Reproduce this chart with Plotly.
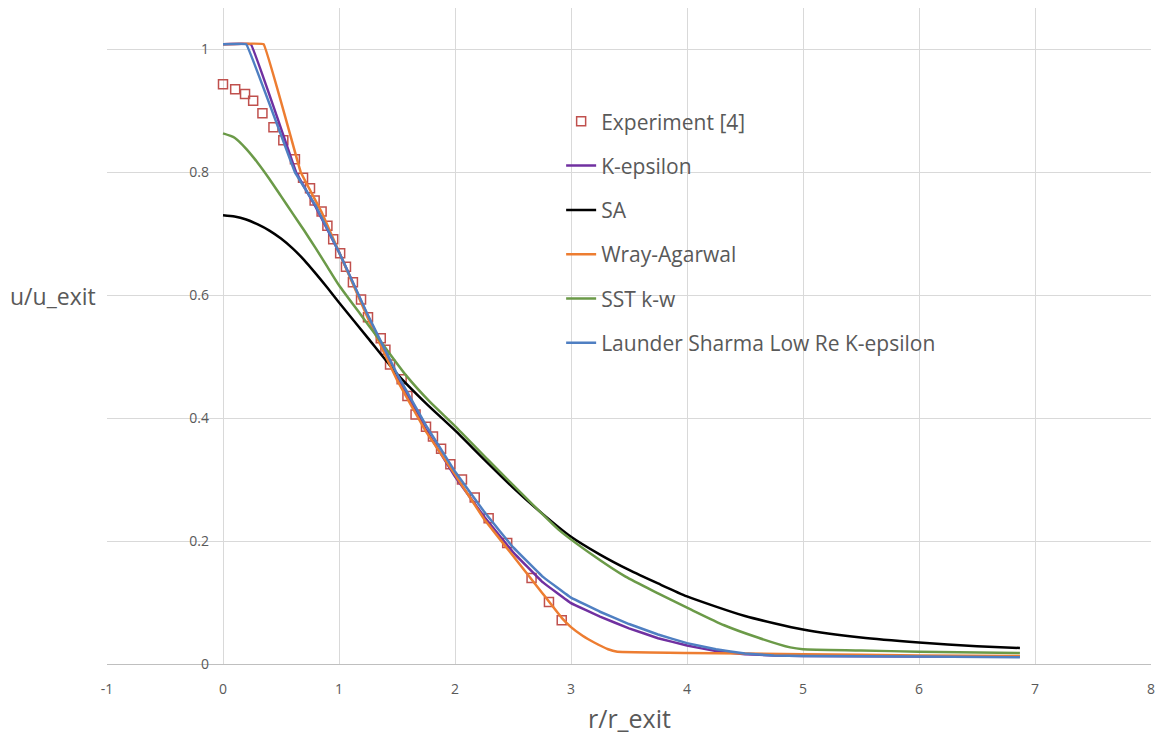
import plotly.graph_objects as go

# Experiment [4]
exp_x = [0, 0.105, 0.19, 0.26, 0.34, 0.435, 0.52, 0.62, 0.69, 0.75, 0.79, 0.85, 0.90, 0.95, 1.01,
         1.06, 1.12, 1.19, 1.25, 1.36, 1.40, 1.44, 1.54, 1.59, 1.66, 1.75, 1.81, 1.88, 1.96, 2.06,
         2.17, 2.29, 2.45, 2.66, 2.81, 2.92]
exp_y = [0.943, 0.935, 0.927, 0.916, 0.896, 0.873, 0.852, 0.821, 0.791, 0.774, 0.754, 0.736, 0.713,
         0.691, 0.668, 0.646, 0.621, 0.593, 0.564, 0.530, 0.511, 0.487, 0.463, 0.436, 0.406, 0.386,
         0.370, 0.350, 0.325, 0.300, 0.271, 0.237, 0.197, 0.140, 0.101, 0.071]

# K-epsilon
ke_x = [0, 0.24, 0.63, 0.8, 1.0, 1.25, 1.5, 1.75, 2.0, 2.25, 2.5, 2.75, 3.0, 3.25, 3.5,
        3.75, 4.0, 4.25, 4.5, 4.75, 5.0, 6.0, 6.87]
ke_y = [1.008, 1.008, 0.800, 0.743, 0.670, 0.565, 0.468, 0.381, 0.305, 0.240, 0.182, 0.134,
        0.099, 0.077, 0.058, 0.042, 0.030, 0.021, 0.016, 0.014, 0.013, 0.012, 0.012]

# SA
sa_x = [0, 0.1, 0.2, 0.3, 0.4, 0.5, 0.6, 0.7, 0.8, 0.9, 1.0, 1.25, 1.5, 1.75, 2.0, 2.25, 2.5,
        2.75, 3.0, 3.25, 3.5, 3.75, 4.0, 4.5, 5.0, 5.5, 6.0, 6.5, 6.87]
sa_y = [0.730, 0.728, 0.723, 0.715, 0.705, 0.692, 0.676, 0.657, 0.635, 0.612, 0.588, 0.530, 0.472,
        0.424, 0.380, 0.333, 0.287, 0.245, 0.207, 0.178, 0.153, 0.131, 0.110, 0.078, 0.056, 0.043,
        0.035, 0.029, 0.026]

# Wray-Agarwal
wa_x = [0, 0.35, 0.67, 0.85, 1.0, 1.25, 1.5, 1.75, 2.0, 2.25, 2.5, 2.75, 2.92, 3.0, 3.1, 3.2,
        3.32, 3.4, 4.0, 5.0, 6.0, 6.87]
wa_y = [1.008, 1.008, 0.800, 0.735, 0.670, 0.562, 0.462, 0.378, 0.308, 0.236, 0.176, 0.116,
        0.075, 0.060, 0.046, 0.035, 0.024, 0.020, 0.018, 0.016, 0.014, 0.013]

# SST k-w
sst_x = [0, 0.1, 0.2, 0.3, 0.4, 0.5, 0.6, 0.7, 0.8, 0.9, 1.0, 1.18, 1.35, 1.58, 1.78, 2.0, 2.29,
         2.72, 2.89, 3.18, 3.47, 3.75, 4.04, 4.32, 4.61, 4.89, 5.0, 5.5, 6.0, 6.87]
sst_y = [0.863, 0.856, 0.838, 0.815, 0.789, 0.761, 0.733, 0.705, 0.676, 0.646, 0.616, 0.570, 0.527,
         0.469, 0.427, 0.387, 0.331, 0.250, 0.219, 0.178, 0.142, 0.115, 0.088, 0.063, 0.043, 0.027,
         0.024, 0.022, 0.020, 0.018]

# Launder Sharma Low Re K-epsilon
ls_x = [0, 0.20, 0.62, 0.8, 1.0, 1.25, 1.5, 1.75, 2.0, 2.25, 2.5, 2.75, 3.0, 3.25, 3.5,
        3.75, 4.0, 4.25, 4.5, 4.75, 5.0, 6.0, 6.87]
ls_y = [1.008, 1.008, 0.800, 0.745, 0.670, 0.567, 0.472, 0.388, 0.313, 0.248, 0.190, 0.143,
        0.108, 0.085, 0.065, 0.048, 0.034, 0.024, 0.017, 0.014, 0.013, 0.012, 0.011]

x_ticks = [-1, 0, 1, 2, 3, 4, 5, 6, 7, 8]
x_tick_labels = ["-1", "0", "1", "2", "3", "4", "5", "6", "7", "8"]
y_ticks = [0, 0.2, 0.4, 0.6, 0.8, 1.0]
y_tick_labels = ["0", "0.2", "0.4", "0.6", "0.8", "1"]

FONT = "Open Sans"

fig = go.Figure()

fig.add_trace(go.Scatter(
    x=exp_x, y=exp_y, mode="markers", name="Experiment [4]", legendgroup="a",
    marker=dict(symbol="square-open", size=9, color="#C0504D", line=dict(width=1.5, color="#C0504D")),
))

series = [
    ("K-epsilon", ke_x, ke_y, "#7030A0", "b", 0.15),
    ("SA", sa_x, sa_y, "#000000", "c", 0.6),
    ("Wray-Agarwal", wa_x, wa_y, "#ED7D31", "d", 0.15),
    ("SST k-w", sst_x, sst_y, "#6B9A48", "e", 0.6),
    ("Launder Sharma Low Re K-epsilon", ls_x, ls_y, "#4F7FC2", "f", 0.15),
]
for name, xs, ys, col, grp, sm in series:
    fig.add_trace(go.Scatter(
        x=xs, y=ys, mode="lines", name=name, legendgroup=grp,
        line=dict(color=col, width=2.5, shape="spline", smoothing=sm),
    ))

fig.update_layout(
    width=1163, height=736,
    margin=dict(l=107, r=9, t=8, b=72),
    paper_bgcolor="white", plot_bgcolor="white",
    font=dict(family=FONT, color="#595959"),
    legend=dict(
        x=0.435, y=0.858, xanchor="left", yanchor="top",
        font=dict(size=21, color="#595959", family=FONT),
        bgcolor="rgba(0,0,0,0)", tracegroupgap=14,
        itemwidth=30,
    ),
    xaxis=dict(
        range=[-1, 8], tickvals=x_ticks, ticktext=x_tick_labels,
        showgrid=True, gridcolor="#D9D9D9", gridwidth=1,
        zeroline=False, showline=True, linecolor="#BFBFBF", linewidth=1,
        tickfont=dict(size=14, color="#595959"), ticks="", ticklabelstandoff=12,
    ),
    yaxis=dict(
        range=[0, 1.067], tickvals=y_ticks, ticktext=y_tick_labels,
        showgrid=True, gridcolor="#D9D9D9", gridwidth=1, zeroline=False, showline=False,
        anchor="free", position=1 / 9, tickfont=dict(size=14, color="#595959"), ticks="",
        ticklabelstandoff=14,
    ),
    annotations=[
        dict(text="u/u_exit", xref="paper", yref="paper", x=-0.0946, y=0.561,
             xanchor="left", yanchor="middle", showarrow=False,
             font=dict(size=23, color="#595959", family=FONT)),
        dict(text="r/r_exit", xref="paper", yref="paper", x=0.5, y=-0.082,
             xanchor="center", yanchor="middle", showarrow=False,
             font=dict(size=25, color="#595959", family=FONT)),
    ],
)

fig.write_html("out.html")
